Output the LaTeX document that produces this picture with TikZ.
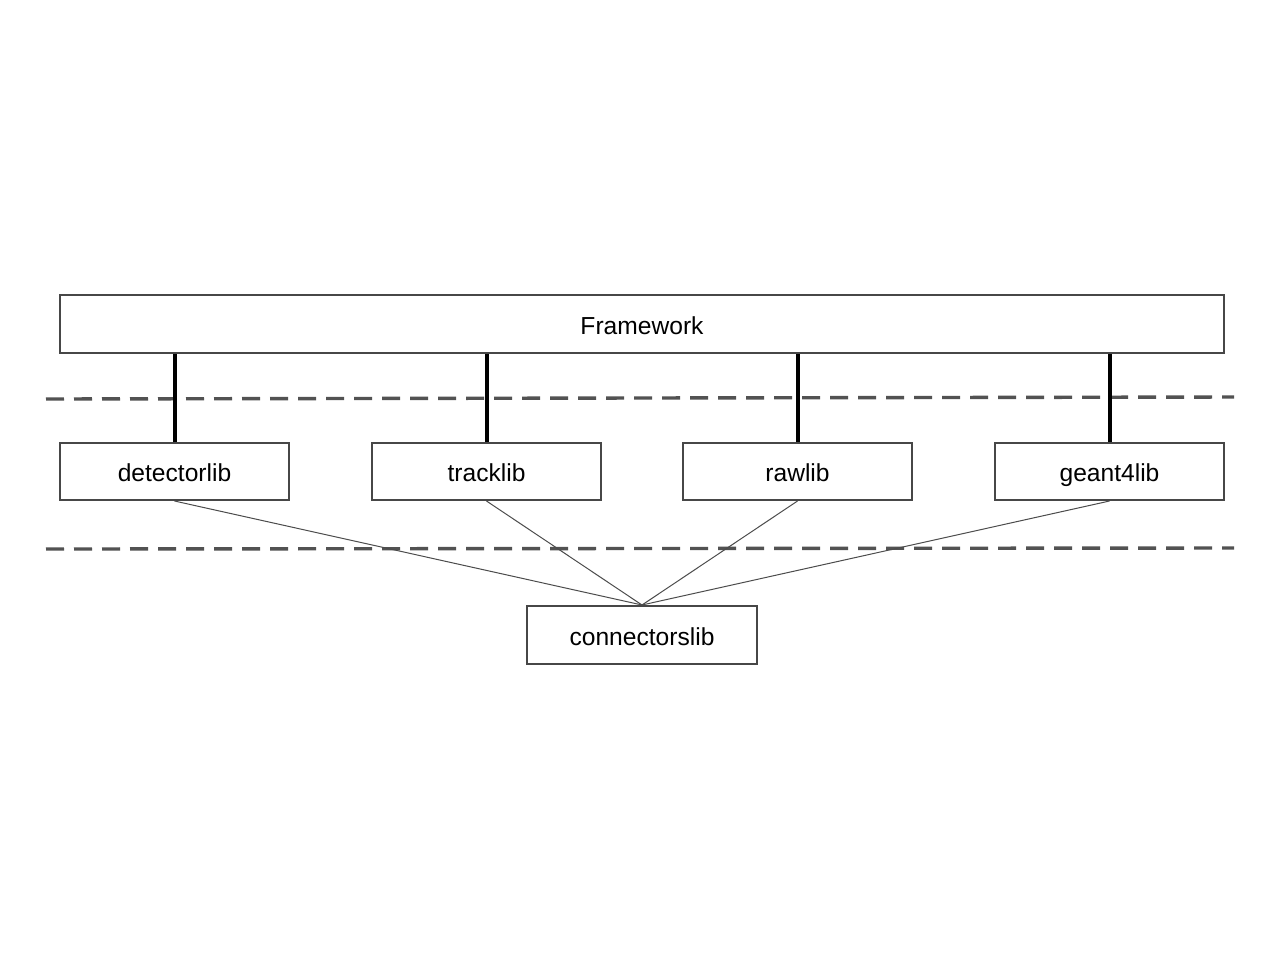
\documentclass[tikz,border=0pt]{standalone}
\usepackage{fontspec}
\setmainfont{Liberation Sans}
\usetikzlibrary{shapes,arrows,calc,positioning}

\tikzset{
    libbox/.style={draw=black!72, line width=1pt, fill=white, inner sep=0pt,
        minimum width=114.5pt, minimum height=28.5pt,
        text height=10pt, text depth=0pt,
        font=\fontsize{12.3}{14}\selectfont},
    layer/.style={draw=black!68, line width=1.7pt, dash pattern=on 9pt off 5pt},
    uses/.style={draw=black, line width=2pt},
    links/.style={draw=black!70, line width=0.5pt}
}

\begin{document}
\begin{tikzpicture}[x=0.5pt, y=-0.5pt]
        \useasboundingbox[fill=white] (0,0) rectangle (1280,960);
        \node[libbox, minimum width=582pt, minimum height=29pt] (fw) at (642,324) {Framework};
        \node[libbox] (det) at (174.5,471.5) {detectorlib};
        \node[libbox] (trk) at (486.5,471.5) {tracklib};
        \node[libbox] (raw) at (797.5,471.5) {rawlib};
        \node[libbox] (g4) at (1109.5,471.5) {geant4lib};
        \node[libbox, minimum width=115pt, minimum height=29pt] (con) at (642,635) {connectorslib};
        \coordinate (upL) at (46,399);
        \coordinate (upR) at (1234,397);
        \coordinate (loL) at (46,549);
        \coordinate (loR) at (1234,548);
        \draw[layer] (upL) -- (upR);
        \draw[layer] (loL) -- (loR);
        \foreach \lib in {det,trk,raw,g4}{
            \draw[uses] (\lib.north) -- (\lib.north |- fw.south);
            \draw[links] (\lib.south) -- (con.north);
        }
\end{tikzpicture}
\end{document}
